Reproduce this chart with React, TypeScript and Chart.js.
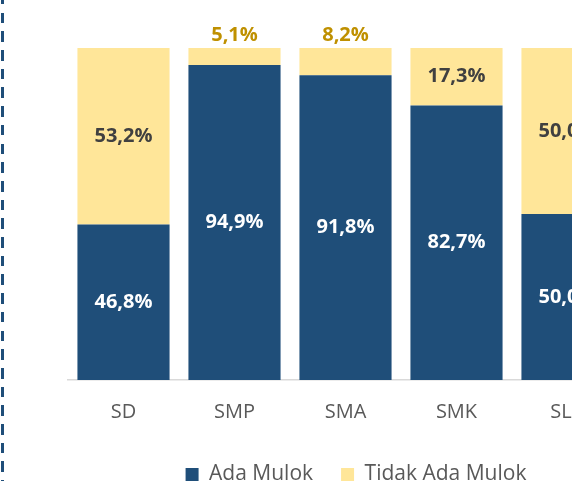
import React, { useEffect, useRef } from "react";
import { Chart, registerables } from "chart.js";

Chart.register(...registerables);

const categories = ["SD", "SMP", "SMA", "SMK", "SLB"];
const adaMulok = [46.8, 94.9, 91.8, 82.7, 50.0];
const tidakAdaMulok = [53.2, 5.1, 8.2, 17.3, 50.0];
const seriesNames = ["Ada Mulok", "Tidak Ada Mulok"];

const BLUE = "#1f4e79";
const YELLOW = "#ffe699";
const FONT = "'Open Sans', 'DejaVu Sans', sans-serif";

const fmt = (v: number) => v.toFixed(1).replace(".", ",") + "%";

const labelPlugin = {
  id: "barLabels",
  afterDatasetsDraw(chart: any) {
    const ctx = chart.ctx;
    ctx.save();
    ctx.font = `bold 20px ${FONT}`;
    ctx.textAlign = "center";
    ctx.textBaseline = "middle";
    chart.data.datasets.forEach((ds: any, di: number) => {
      const meta = chart.getDatasetMeta(di);
      meta.data.forEach((el: any, i: number) => {
        const v = ds.data[i] as number;
        const top = Math.min(el.y, el.base);
        const bot = Math.max(el.y, el.base);
        let y = (top + bot) / 2;
        let color = di === 0 ? "#ffffff" : "#404040";
        if (di === 1 && v < 10) {
          y = top - 13;
          color = "#bf9000";
        }
        ctx.fillStyle = color;
        ctx.fillText(fmt(v), el.x, y);
      });
    });
    ctx.restore();
  },
};

export default function App() {
  const ref = useRef<HTMLCanvasElement | null>(null);
  useEffect(() => {
    if (!ref.current) return;
    const chart = new Chart(ref.current, {
      type: "bar",
      data: {
        labels: categories,
        datasets: [
          {
            label: seriesNames[0],
            data: adaMulok,
            backgroundColor: BLUE,
            borderWidth: 0,
            categoryPercentage: 0.83,
            barPercentage: 1,
          },
          {
            label: seriesNames[1],
            data: tidakAdaMulok,
            backgroundColor: YELLOW,
            borderWidth: 0,
            categoryPercentage: 0.83,
            barPercentage: 1,
          },
        ],
      },
      options: {
        responsive: false,
        animation: false,
        layout: { padding: { left: 68, right: 0, top: 48, bottom: -14 } },
        scales: {
          x: {
            stacked: true,
            grid: { display: false },
            border: { display: true, color: "#d9d9d9", width: 1.5 },
            ticks: {
              color: "#595959",
              font: { family: FONT, size: 20 },
              padding: 12,
            },
          },
          y: {
            stacked: true,
            display: false,
            min: 0,
            max: 100,
          },
          y2: {
            position: "right",
            display: true,
            grid: { display: false },
            border: { display: false },
            ticks: { display: false },
            afterFit: (s: any) => {
              s.width = 21;
            },
          },
        },
        plugins: {
          legend: {
            position: "bottom",
            labels: {
              color: "#595959",
              font: { family: FONT, size: 21 },
              boxWidth: 13,
              boxHeight: 13,
              padding: 28,
            },
          },
          tooltip: { enabled: false },
        },
      },
      plugins: [labelPlugin],
    });
    return () => chart.destroy();
  }, []);

  return (
    <div
      style={{
        position: "fixed",
        left: 0,
        top: 0,
        width: 572,
        height: 481,
        overflow: "hidden",
        background: "#ffffff",
      }}
    >
      <canvas
        ref={ref}
        width={644}
        height={481}
        style={{ position: "absolute", left: 0, top: 0, width: 644, height: 481 }}
      />
      <div
        style={{
          position: "absolute",
          left: 1,
          top: -5.7,
          width: 3,
          height: 500,
          background: `repeating-linear-gradient(to bottom, ${BLUE} 0px, ${BLUE} 10.5px, transparent 10.5px, transparent 18.7px)`,
        }}
      />
    </div>
  );
}
